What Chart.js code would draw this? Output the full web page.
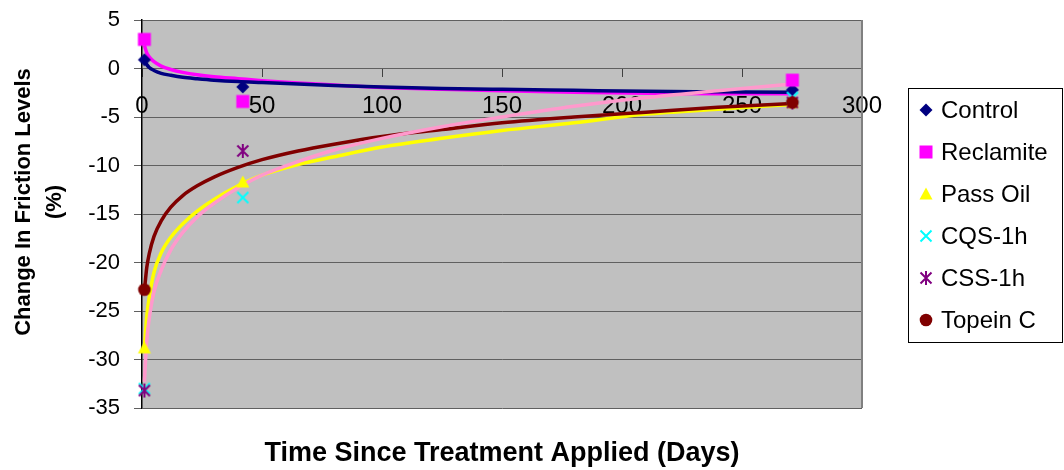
<!DOCTYPE html>
<html><head><meta charset="utf-8">
<script src="https://cdn.jsdelivr.net/npm/chart.js@4/dist/chart.umd.min.js"></script>
<style>html,body{margin:0;padding:0;background:#fff}canvas{display:block}</style>
</head><body>
<canvas id="c" width="1064" height="470"></canvas>
<script>
// ---- data ----
const seriesNames = ['Control', 'Reclamite', 'Pass Oil', 'CQS-1h', 'CSS-1h', 'Topein C'];
const measureDays = [1, 42, 271];
const control   = [0.9, -1.9, -2.2];
const reclamite = [3.0, -3.4, -1.2];
const passOil   = [-28.8, -11.7, -3.5];
const cqs       = [-33.0, -13.3, -3.0];
const css       = [-33.2, -8.5, -3.5];
const topein    = [-22.8, null, -3.5];

// trend lines
const trendDays      = [1, 2, 3, 5, 8, 12, 17, 23, 30, 40, 50, 65, 80, 100, 125, 150, 180, 210, 240, 271];
const controlTrend   = [0.8, 0.4, 0.1, -0.2, -0.5, -0.7, -0.9, -1.05, -1.2, -1.35, -1.45, -1.6, -1.75, -1.9, -2.05, -2.15, -2.25, -2.35, -2.4, -2.45];
const reclamiteTrend = [2.4, 1.6, 1.2, 0.7, 0.25, -0.1, -0.4, -0.65, -0.85, -1.05, -1.25, -1.5, -1.7, -1.95, -2.15, -2.3, -2.45, -2.55, -2.6, -2.6];
const passOilTrend   = [-28.8, -25.5, -23.6, -21.0, -19.0, -17.4, -16.0, -14.7, -13.5, -12.1, -11.0, -9.9, -9.1, -8.1, -7.2, -6.4, -5.6, -4.7, -4.2, -3.7];
const cqsTrend       = [-32.3, -28.0, -25.8, -23.0, -20.8, -18.7, -16.9, -15.3, -13.9, -12.3, -11.0, -9.6, -8.4, -7.2, -6.0, -5.0, -3.9, -3.0, -2.3, -1.6];
const topeinTrend    = [-22.9, -20.5, -19.1, -17.3, -15.7, -14.3, -13.1, -12.1, -11.2, -10.2, -9.4, -8.5, -7.8, -7.0, -6.3, -5.6, -5.0, -4.5, -4.0, -3.6];

const xTicks = [0, 50, 100, 150, 200, 250, 300];
const yTicks = [5, 0, -5, -10, -15, -20, -25, -30, -35];
const xTitle = 'Time Since Treatment Applied (Days)';
const yTitle = ['Change In Friction Levels', '(%)'];

// ---- styling ----
const FONT = '"Liberation Sans", Arial, sans-serif';
function marker(kind, color) {
  const s = 18, m = s / 2;
  const c = document.createElement('canvas'); c.width = s; c.height = s;
  const g = c.getContext('2d');
  g.fillStyle = color; g.strokeStyle = color; g.lineWidth = 2; g.lineCap = 'butt';
  g.beginPath();
  if (kind === 'diamond') { g.moveTo(m, m - 6.5); g.lineTo(m + 6.5, m); g.lineTo(m, m + 6.5); g.lineTo(m - 6.5, m); g.closePath(); g.fill(); }
  else if (kind === 'square') { g.fillRect(m - 6.5, m - 6.5, 13, 13); }
  else if (kind === 'triangle') { g.moveTo(m, m - 6.5); g.lineTo(m + 6.5, m + 5.5); g.lineTo(m - 6.5, m + 5.5); g.closePath(); g.fill(); }
  else if (kind === 'x') { g.moveTo(m - 5.5, m - 5.5); g.lineTo(m + 5.5, m + 5.5); g.moveTo(m + 5.5, m - 5.5); g.lineTo(m - 5.5, m + 5.5); g.stroke(); }
  else if (kind === 'star') { g.moveTo(m - 5.5, m - 5.5); g.lineTo(m + 5.5, m + 5.5); g.moveTo(m + 5.5, m - 5.5); g.lineTo(m - 5.5, m + 5.5); g.moveTo(m, m - 7); g.lineTo(m, m + 7); g.stroke(); }
  else if (kind === 'circle') { g.arc(m, m, 6.3, 0, Math.PI * 2); g.fill(); }
  return c;
}
const markerKinds  = ['diamond', 'square', 'triangle', 'x', 'star', 'circle'];
const markerColors = ['#000080', '#FF00FF', '#FFFF00', '#00FFFF', '#800080', '#800000'];
const markerValues = [control, reclamite, passOil, cqs, css, topein];

const pts = (xs, ys) => xs.map((x, i) => ({ x, y: ys[i] })).filter(p => p.y !== null);

const datasets = [];
markerValues.forEach((vals, i) => {
  datasets.push({
    label: seriesNames[i], isMarker: true, data: pts(measureDays, vals),
    showLine: false, pointStyle: marker(markerKinds[i], markerColors[i]), pointRadius: 6,
    backgroundColor: markerColors[i], borderColor: markerColors[i],
    order: 6 - i, clip: false
  });
});
const trends = [
  [reclamiteTrend, '#FF00FF', 14],
  [controlTrend, '#000080', 13],
  [passOilTrend, '#FFFF00', 12],
  [topeinTrend, '#800000', 11],
  [cqsTrend, '#FF99CC', 10]
];
trends.forEach(([vals, color, ord]) => {
  datasets.push({
    label: 'trend', isMarker: false, data: pts(trendDays, vals), showLine: true,
    borderColor: color, borderWidth: 3.5, pointRadius: 0, cubicInterpolationMode: 'monotone',
    order: ord, fill: false
  });
});

const decor = {
  id: 'decor',
  beforeDraw(chart) {
    const { ctx, chartArea: a } = chart;
    ctx.save();
    ctx.fillStyle = '#C0C0C0';
    ctx.fillRect(a.left, a.top, a.right - a.left, a.bottom - a.top);
    ctx.restore();
  },
  beforeDatasetsDraw(chart) {
    const { ctx, chartArea: a } = chart;
    ctx.save();
    ctx.strokeStyle = '#808080'; ctx.lineWidth = 2;
    ctx.beginPath(); ctx.moveTo(a.right, a.top); ctx.lineTo(a.right, a.bottom); ctx.stroke();
    ctx.restore();
  },
  afterDraw(chart) {
    const { ctx, chartArea: a } = chart;
    ctx.save();
    ctx.fillStyle = '#000';
    // x title
    ctx.font = 'bold 27px ' + FONT;
    ctx.textAlign = 'center'; ctx.textBaseline = 'middle';
    ctx.fillText(xTitle, (a.left + a.right) / 2, 454);
    // y title
    ctx.font = 'bold 22px ' + FONT;
    ctx.save();
    ctx.translate(24, 202); ctx.rotate(-Math.PI / 2);
    ctx.fillText(yTitle[0], 0, 0);
    ctx.fillText(yTitle[1], 0, 31);
    ctx.restore();
    // legend
    const L = { left: 908.5, top: 88.5, width: 154, height: 254, first: 110, step: 42, mx: 926, tx: 941 };
    ctx.strokeStyle = '#000'; ctx.lineWidth = 1;
    ctx.strokeRect(L.left, L.top, L.width, L.height);
    ctx.font = '24px ' + FONT; ctx.textAlign = 'left'; ctx.textBaseline = 'middle';
    let row = 0;
    chart.data.datasets.forEach(ds => {
      if (!ds.isMarker) return;
      const y = L.first + row * L.step;
      const img = ds.pointStyle;
      ctx.drawImage(img, L.mx - img.width / 2, y - img.height / 2);
      ctx.fillText(ds.label, L.tx, y + 1);
      row++;
    });
    ctx.restore();
  }
};

new Chart(document.getElementById('c'), {
  type: 'scatter',
  data: { datasets },
  plugins: [decor],
  options: {
    responsive: false, animation: false, events: [],
    layout: { padding: { top: 20, right: 202, bottom: 62, left: 0 } },
    plugins: { legend: { display: false }, tooltip: { enabled: false }, title: { display: false } },
    scales: {
      x: {
        type: 'linear', min: 0, max: 300, position: { y: 0 },
        afterBuildTicks: s => { s.ticks = xTicks.map(v => ({ value: v })); },
        ticks: { font: { family: FONT, size: 24 }, color: '#000', padding: 15, maxRotation: 0, autoSkip: false },
        grid: { drawOnChartArea: false, drawTicks: true, tickLength: 8, color: '#404040' },
        border: { display: true, color: '#606060', width: 1 }
      },
      y: {
        type: 'linear', min: -35, max: 5,
        afterBuildTicks: s => { s.ticks = yTicks.map(v => ({ value: v })); },
        afterFit: s => { s.width = 142; s.paddingTop = 0; s.paddingBottom = 0; },
        ticks: { font: { family: FONT, size: 22 }, color: '#000', padding: 14, autoSkip: false },
        grid: { color: '#606060', lineWidth: 1, tickLength: 8, drawTicks: true },
        border: { display: true, color: '#000', width: 1.5 }
      }
    }
  }
});
</script>
</body></html>
